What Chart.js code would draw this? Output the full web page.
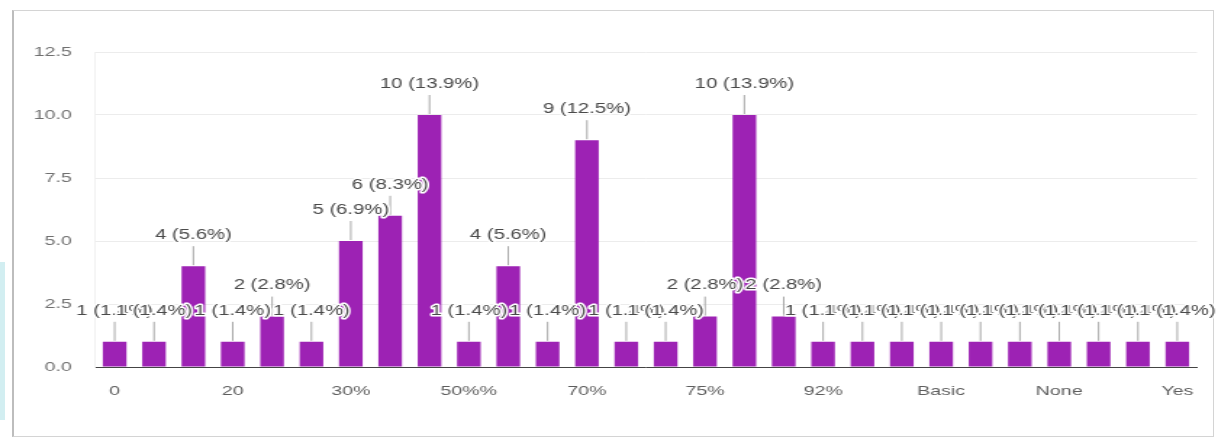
<!DOCTYPE html>
<html>
<head>
<meta charset="utf-8">
<script src="https://cdn.jsdelivr.net/npm/chart.js@4/dist/chart.umd.min.js"></script>
<style>
  html, body { margin:0; padding:0; background:#fff; }
  body { width:1218px; height:439px; position:relative; overflow:hidden; }
  .frame { position:absolute; left:12px; top:10px; width:1199px; height:425px;
    border:1px solid #d4d4d4; border-left:2px solid #bdbdbd; }
  .strip { position:absolute; left:0; top:262px; width:5px; height:158px; background:#d2eef1; }
  /* the reference is stretched sideways, so the chart is drawn narrow and scaled */
  #wrap { position:absolute; left:0; top:0; width:840px; height:439px;
    transform:scaleX(1.45); transform-origin:0 0; }
</style>
</head>
<body>
<div class="strip"></div>
<div class="frame"></div>
<div id="wrap"><canvas id="chart"></canvas></div>
<script>
// answers (only every third one is printed under the axis)
const categories = ['0','10','15%','20','20%','25%','30%','40%','50%','50%%','60%','65%','70%','70 %','72%',
  '75%','80%','90%','92%','95%','Average','Basic','Good','No','None','Not sure','Some','Yes'];
const counts = [1,1,4,1,2,1,5,6,10,1,4,1,9,1,1,2,10,2,1,1,1,1,1,1,1,1,1,1];
const pcts   = ['1.4','1.4','5.6','1.4','2.8','1.4','6.9','8.3','13.9','1.4','5.6','1.4','12.5','1.4','1.4',
  '2.8','13.9','2.8','1.4','1.4','1.4','1.4','1.4','1.4','1.4','1.4','1.4','1.4'];
const yTicks = [0, 2.5, 5, 7.5, 10, 12.5];

const FONT = '"Liberation Sans", Arial, sans-serif';
Chart.defaults.font.family = FONT;

// "n (p%)" over each bar with a thin leader line, white halo like Google charts
const barLabels = {
  id: 'barLabels',
  afterDatasetsDraw(chart) {
    const ctx = chart.ctx, meta = chart.getDatasetMeta(0);
    ctx.save();
    ctx.strokeStyle = '#a8a8a8'; ctx.lineWidth = 1;
    meta.data.forEach(b => {
      ctx.beginPath(); ctx.moveTo(b.x, b.y - 1); ctx.lineTo(b.x, b.y - 20); ctx.stroke();
    });
    ctx.font = '14px ' + FONT;
    ctx.textAlign = 'center'; ctx.textBaseline = 'middle'; ctx.lineJoin = 'round';
    meta.data.forEach((b, i) => {
      const txt = counts[i] + ' (' + pcts[i] + '%)', y = b.y - 31;
      ctx.lineWidth = 3; ctx.strokeStyle = '#fff'; ctx.strokeText(txt, b.x, y);
      ctx.fillStyle = '#4a4a4a'; ctx.fillText(txt, b.x, y);
    });
    ctx.restore();
  }
};

new Chart(document.getElementById('chart'), {
  type: 'bar',
  data: { labels: categories, datasets: [{
    data: counts, backgroundColor: '#9d22b4', borderWidth: 0,
    barPercentage: 0.6, categoryPercentage: 1
  }]},
  options: {
    responsive: true, maintainAspectRatio: false, animation: false,
    layout: { padding: { top: 52, right: 14.5, left: 0, bottom: 0 } },
    plugins: { legend: { display: false }, tooltip: { enabled: false } },
    scales: {
      x: {
        grid: { display: false, drawTicks: false },
        border: { color: '#444', width: 1 },
        ticks: { autoSkip: false, maxRotation: 0, padding: 16, color: '#5e5e5e', font: { size: 13.5 },
          callback: (v, i) => i % 3 === 0 ? categories[i] : '' },
        afterFit: s => { s.height = 72; }
      },
      y: {
        min: 0, max: 12.5,
        afterBuildTicks: s => { s.ticks = yTicks.map(v => ({ value: v })); },
        grid: { color: '#ececec', drawTicks: false },
        border: { color: '#f0f0f0' },
        ticks: { padding: 16, color: '#707070', font: { size: 13.5 }, callback: v => v.toFixed(1) },
        afterFit: s => { s.width = 65.5; }
      }
    }
  },
  plugins: [barLabels]
});
</script>
</body>
</html>
